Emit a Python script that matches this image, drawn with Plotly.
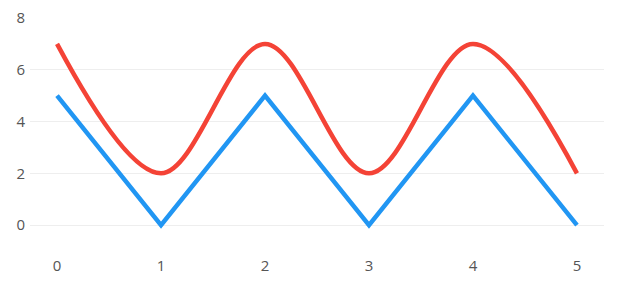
import plotly.graph_objects as go

x_vals = [0, 1, 2, 3, 4, 5]
blue_vals = [5, 0, 5, 0, 5, 0]
red_vals = [7, 2, 7, 2, 7, 2]
y_grid_ticks = [0, 2, 4, 6]
y_label_ticks = [8]

fig = go.Figure()
fig.add_trace(go.Scatter(x=x_vals, y=blue_vals, mode="lines",
                         line=dict(color="#2196F3", width=4.5), showlegend=False))
fig.add_trace(go.Scatter(x=x_vals, y=red_vals, mode="lines",
                         line=dict(color="#F44336", width=4.5, shape="spline", smoothing=1),
                         showlegend=False))
fig.add_trace(go.Scatter(x=[None], y=[None], yaxis="y2", showlegend=False))

font = dict(family="Open Sans, DejaVu Sans, sans-serif", size=15, color="#555555")
fig.update_layout(
    width=624, height=281,
    margin=dict(l=30, r=20, t=17.5, b=30, autoexpand=False),
    plot_bgcolor="white", paper_bgcolor="white",
    xaxis=dict(range=[-0.26, 5.26], tickvals=x_vals, showgrid=False, zeroline=False,
               showline=False, ticks="", tickfont=font, ticklabelstandoff=4, automargin=False),
    yaxis=dict(range=[-1, 8], tickvals=y_grid_ticks, showgrid=True, gridcolor="#eeeeee",
               gridwidth=1, zeroline=False, showline=False, ticks="", tickfont=font,
               ticklabelstandoff=4, automargin=False),
    yaxis2=dict(range=[-1, 8], tickvals=y_label_ticks, overlaying="y", side="left", showgrid=False,
                zeroline=False, showline=False, ticks="", tickfont=font, ticklabelstandoff=4,
                automargin=False),
)
fig.write_html("out.html")
